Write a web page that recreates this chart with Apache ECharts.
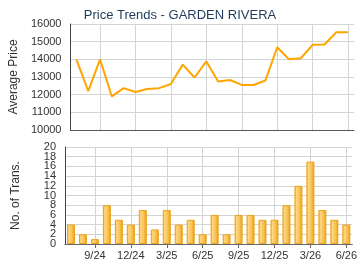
<!DOCTYPE html>
<html>
<head>
<meta charset="utf-8">
<script src="https://cdn.jsdelivr.net/npm/echarts@6/dist/echarts.min.js"></script>
<style>html,body{margin:0;padding:0;background:#fff}#c{width:360px;height:270px}</style>
</head>
<body>
<div id="c"></div>
<script>
var months = ['7/24','8/24','9/24','10/24','11/24','12/24','1/25','2/25','3/25','4/25','5/25','6/25','7/25','8/25','9/25','10/25','11/25','12/25','1/26','2/26','3/26','4/26','5/26','6/26'];
var avgPrice = [14000,12200,14000,11900,12370,12150,12320,12370,12600,13700,12970,13880,12750,12830,12550,12550,12800,14680,14000,14060,14820,14840,15530,15530];
var transactions = [4,2,1,8,5,4,7,3,7,4,5,2,6,2,6,6,5,5,8,12,17,7,5,4];
var tickMonths = ['9/24','12/24','3/25','6/25','9/25','12/25','3/26','6/26'];
var priceTicks = {min:10000, max:16000, step:1000};
var transTicks = {min:0, max:20, step:2};
var titleText = 'Price Trends - GARDEN RIVERA';

function showIdx(i){ return tickMonths.indexOf(months[i]) >= 0; }
var font = 'Liberation Sans, Arial, sans-serif';
var gridColor = '#d4d4d4';
function vlines(){
  return {silent:true, symbol:'none', z:0, label:{show:false},
    lineStyle:{color:gridColor, type:'solid', width:1},
    data: tickMonths.map(function(m){ return {xAxis:m}; })};
}
var labelStyle = {fontFamily:font, fontSize:11, color:'#333', margin:9};
var chart = echarts.init(document.getElementById('c'), null, {renderer:'canvas'});
chart.setOption({
  animation:false,
  backgroundColor:'#fff',
  title:{text:titleText, left:'center', top:4, textStyle:{fontFamily:font, fontSize:13, fontWeight:'normal', color:'#1e3a5c'}},
  grid:[
    {left:65, right:6, top:24, height:106},
    {left:65, right:6, top:147, height:97}
  ],
  xAxis:[
    {type:'category', gridIndex:0, data:months, boundaryGap:true,
     axisLine:{lineStyle:{color:'#555'}}, axisTick:{show:false}, axisLabel:{show:false},
     splitLine:{show:false}},
    {type:'category', gridIndex:1, data:months, boundaryGap:true,
     axisLine:{lineStyle:{color:'#666'}},
     axisTick:{show:true, alignWithLabel:true, length:4, interval:function(i){return showIdx(i);}, lineStyle:{color:'#666'}},
     axisLabel:{interval:function(i){return showIdx(i);}, fontFamily:font, fontSize:11, color:'#333', margin:6},
     splitLine:{show:false}}
  ],
  yAxis:[
    {type:'value', gridIndex:0, min:priceTicks.min, max:priceTicks.max, interval:priceTicks.step,
     name:'Average Price', nameLocation:'middle', nameGap:43, nameTextStyle:{fontFamily:font, fontSize:12, color:'#333'},
     axisLine:{show:true, lineStyle:{color:'#444'}}, axisTick:{show:false},
     axisLabel:Object.assign({showMinLabel:true, showMaxLabel:true, formatter:function(v){return String(v);}}, labelStyle),
     splitLine:{lineStyle:{color:gridColor}}},
    {type:'value', gridIndex:1, min:transTicks.min, max:transTicks.max, interval:transTicks.step*2,
     name:'No. of Trans.', nameLocation:'middle', nameGap:43, nameTextStyle:{fontFamily:font, fontSize:12, color:'#333'},
     axisLine:{show:true, lineStyle:{color:'#444'}}, axisTick:{show:false},
     axisLabel:Object.assign({showMinLabel:true, showMaxLabel:true, formatter:function(v){return String(v);}}, labelStyle),
     splitLine:{show:false}, z:2},
    {type:'value', gridIndex:1, min:transTicks.min, max:transTicks.max, interval:transTicks.step, position:'left',
     axisLine:{show:false}, axisTick:{show:false},
     axisLabel:Object.assign({formatter:function(v){return (v % (transTicks.step*2)) ? String(v) : '';}}, labelStyle),
     splitLine:{lineStyle:{color:gridColor}}}
  ],
  series:[
    {type:'line', xAxisIndex:0, yAxisIndex:0, data:[], z:0, markLine:vlines()},
    {type:'line', xAxisIndex:1, yAxisIndex:1, data:[], z:0, markLine:vlines()},
    {type:'line', xAxisIndex:0, yAxisIndex:0, data:avgPrice, symbol:'none', z:3,
     lineStyle:{color:'#ffa500', width:2}},
    {type:'bar', xAxisIndex:1, yAxisIndex:1, data:transactions, barWidth:8, z:3,
     itemStyle:{
       borderColor:'#eda21a', borderWidth:1,
       color:new echarts.graphic.LinearGradient(0,0,1,0,[
         {offset:0, color:'#f3b43a'},
         {offset:0.25, color:'#fdd682'},
         {offset:0.6, color:'#f9c455'},
         {offset:1, color:'#e89c10'}
       ])
     }}
  ]
});
</script>
</body>
</html>
